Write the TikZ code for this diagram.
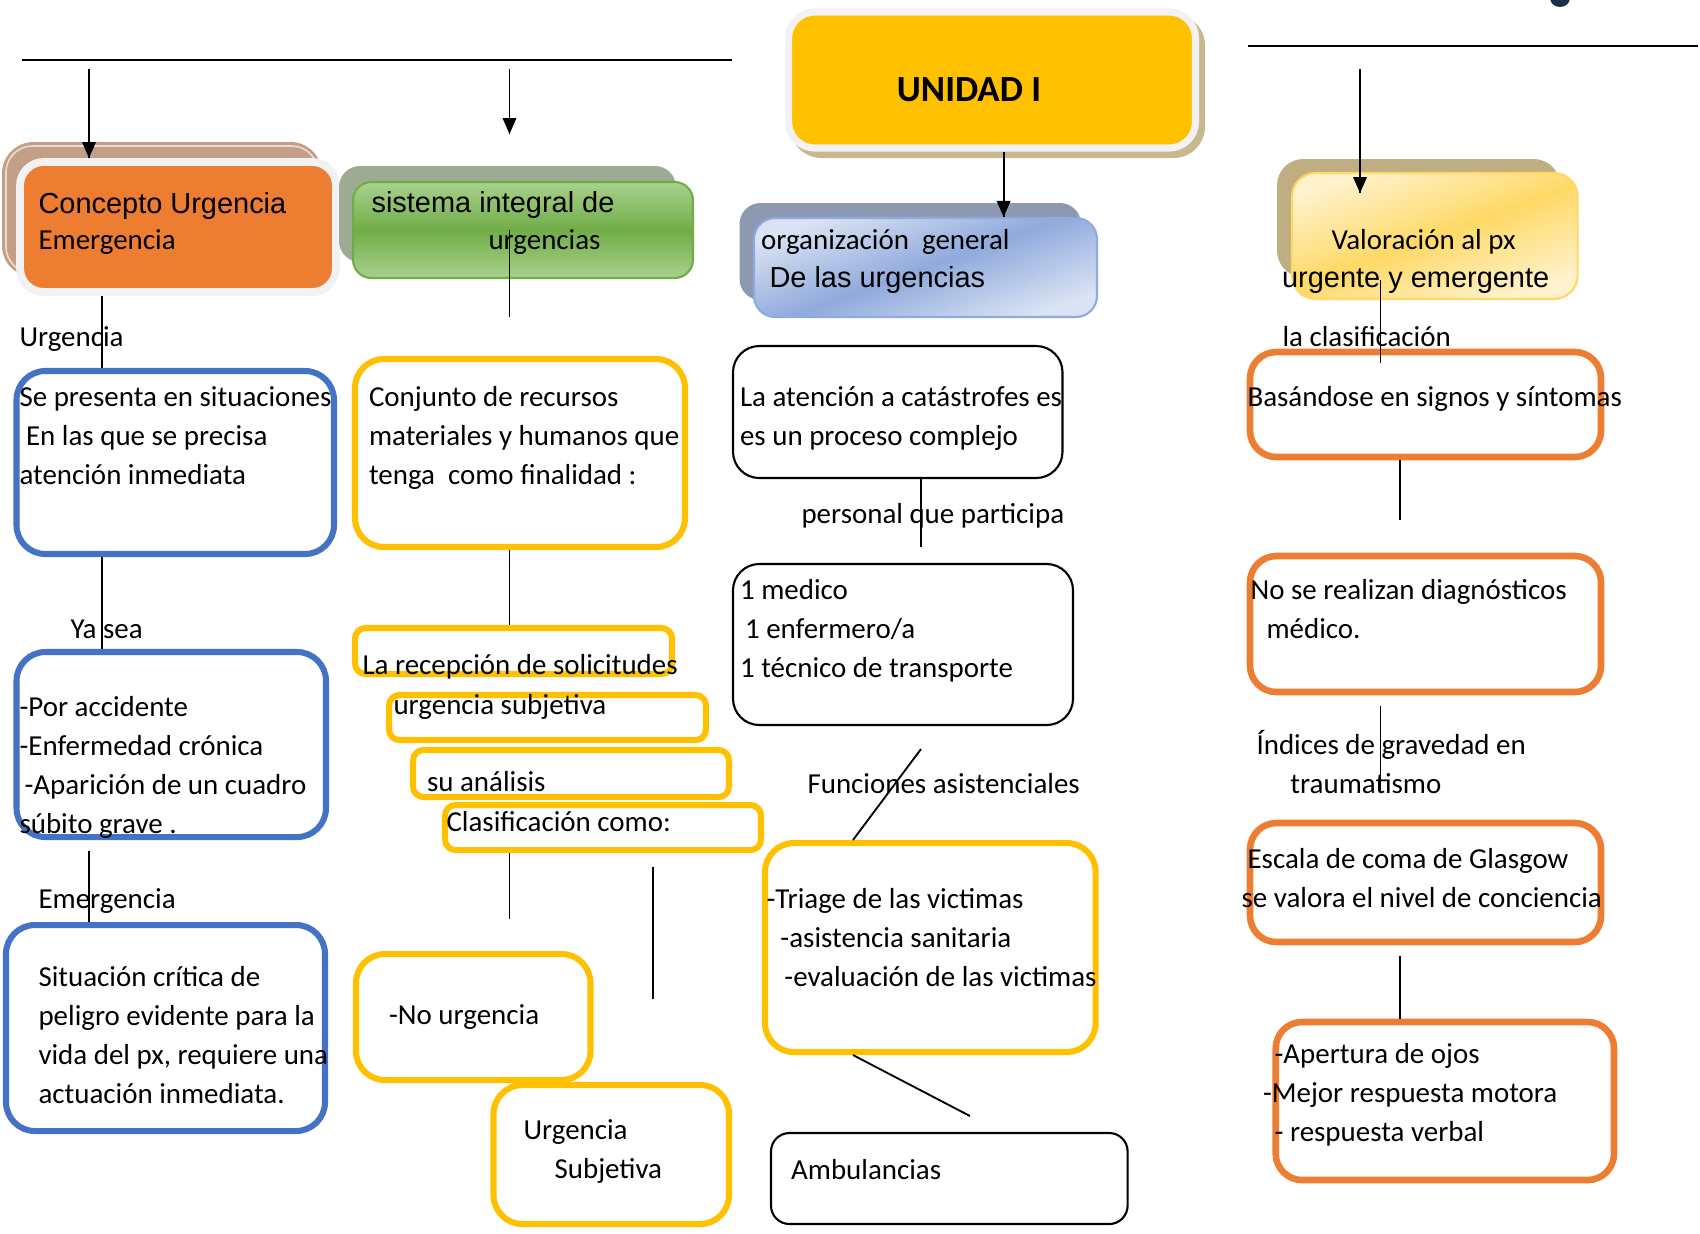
\documentclass[tikz,border=0pt]{standalone}
\usepackage{fontspec}
\setmainfont{Carlito}
\newfontfamily\arialfont{Liberation Sans}
\usetikzlibrary{fit}

\definecolor{blueline}{HTML}{4472C4}
\definecolor{goldline}{HTML}{FFC000}
\definecolor{orangeline}{HTML}{ED7D31}
\definecolor{framegray}{HTML}{F2F2F2}
\definecolor{tanshadow}{HTML}{C29F86}
\definecolor{unishadow}{HTML}{C8B88E}
\definecolor{greenshadow}{HTML}{9EAB93}
\definecolor{greenlight}{HTML}{A9D18E}
\definecolor{greendark}{HTML}{70AD47}
\definecolor{blueshadow}{HTML}{8D99B1}
\definecolor{bluelight}{HTML}{DAE3F3}
\definecolor{bluemid}{HTML}{8FAADC}
\definecolor{yelshadow}{HTML}{BFAE81}
\definecolor{cream}{HTML}{FFF2CC}
\definecolor{yelmid}{HTML}{FFD966}
\definecolor{navydot}{HTML}{1F2C4C}

\tikzset{
  every node/.style={inner sep=0pt, font=\fontsize{11pt}{14.9pt}\selectfont},
  txt/.style={anchor=base west},
  arialtxt/.style={anchor=base west, font=\arialfont\fontsize{11pt}{14.9pt}\selectfont},
  para/.style={anchor=base west, align=flush left, text width=200pt},
  bluebox/.style={draw=blueline, line width=2.3pt, rounded corners=11pt},
  goldbox/.style={draw=goldline, line width=2.3pt, rounded corners=11pt},
  goldstrip/.style={draw=goldline, line width=2.3pt, rounded corners=4pt},
  orangebox/.style={draw=orangeline, line width=2.5pt, rounded corners=10pt},
  blackbox/.style={draw=black, line width=0.8pt, rounded corners=10pt},
  conn/.style={line width=0.7pt},
  headfill/.style={fill=black}
}

\begin{document}
\begin{tikzpicture}[x=0.38pt, y=-0.38pt]
  \fill [white] (0,0) rectangle (1700,1233);
  \useasboundingbox (0,0) rectangle (1700,1233);

  % rules along the top
  \draw [line width=0.8pt] (22,60) -- (732,60);
  \draw [line width=0.8pt] (1248,46) -- (1698,46);
  \fill [navydot] (1560,-2) ellipse (10 and 9);

  % header boxes
  \fill [tanshadow, rounded corners=12pt] (2,142) rectangle (322,277);
  \draw [white!65!tanshadow, line width=0.6pt, rounded corners=10pt] (6,146) rectangle (318,273);
  \node [fit={(20,162) (336,292)}, fill=orangeline, draw=framegray, line width=3pt, rounded corners=9pt] (concepto) {};
  \fill [greenshadow, rounded corners=8pt] (339,166) rectangle (676,262);
  \node [fit={(353,182) (693,278)}, top color=greenlight, bottom color=greenlight, middle color=greendark, draw=greendark, line width=0.8pt, rounded corners=7pt] (sistema) {};
  \fill [unishadow, rounded corners=12pt] (790,14) rectangle (1205,158);
  \node [fit={(788.5,12) (1195.5,148)}, fill=goldline, draw=framegray, line width=2.7pt, rounded corners=10pt] (unidad) {};
  \fill [blueshadow, rounded corners=8pt] (739.5,203) rectangle (1081,300);
  \node [fit={(754,218) (1097,317)}, top color=bluelight, bottom color=bluelight, middle color=bluemid, shading angle=20, draw=bluemid, line width=0.8pt, rounded corners=8pt] (organiz) {};
  \fill [yelshadow, rounded corners=10pt] (1277,159) rectangle (1560,277);
  \node [fit={(1292,173) (1577.6,299)}, top color=cream, bottom color=cream, middle color=yelmid, shading angle=20, draw=yelmid, line width=0.8pt, rounded corners=9pt] (valor) {};

  % column 1
  \node [bluebox, fit={(16.5,371) (334,554)}] (urgbox) {};
  \node [bluebox, fit={(16.5,652) (326,837)}] (yabox) {};
  \node [bluebox, fit={(6,925) (325,1131)}] (emebox) {};

  % column 2
  \node [goldbox, fit={(355,359) (685,547)}] (conjunto) {};
  \node [goldstrip, fit={(355,628) (672,674)}] (recepcion) {};
  \node [goldstrip, fit={(389,695) (706,740)}] (usubj) {};
  \node [goldstrip, fit={(413,750) (729,797)}] (analisis) {};
  \node [goldstrip, fit={(445,805) (761,850)}] (clasif) {};
  \node [goldbox, fit={(356,954) (590.5,1080)}] (nourg) {};
  \node [goldbox, fit={(493.5,1085) (729,1224)}] (urgsubj) {};

  % column 3
  \node [blackbox, fit={(733,346) (1062.5,478)}] (catas) {};
  \node [blackbox, fit={(733,564) (1073,725)}] (personal) {};
  \node [goldbox, fit={(765,843) (1095.6,1052)}] (triage) {};
  \node [blackbox, rounded corners=7pt, fit={(771,1133) (1127.6,1224)}] (ambul) {};

  % column 4
  \node [orangebox, fit={(1250,352) (1601,457)}] (basand) {};
  \node [orangebox, fit={(1250,556) (1601,692)}] (nodiag) {};
  \node [orangebox, fit={(1250,823) (1601,942)}] (escala) {};
  \node [orangebox, fit={(1275.7,1022) (1614,1180)}] (apertura) {};

  % connectors
  \coordinate (x1) at (102,0);
  \coordinate (x1b) at (89,0);
  \coordinate (a1) at (89,69);
  \draw [conn] (a1) -- (concepto.north -| a1);
  \fill [headfill] (concepto.north -| a1) -- ++(-7,-16) -- ++(14,0) -- cycle;
  \draw [conn] (concepto.south -| x1) -- (urgbox.north -| x1);
  \draw [conn] (urgbox.south -| x1) -- (yabox.north -| x1);
  \draw [conn, shorten <=4pt] (yabox.south -| x1b) -- (emebox.north -| x1b);

  \coordinate (x2) at (509.5,0);
  \coordinate (a2) at (509.5,69);
  \coordinate (a2e) at (509.5,134);
  \draw [conn] (a2) -- (a2e);
  \fill [headfill] (a2e) -- ++(-7,-16) -- ++(14,0) -- cycle;
  \coordinate (s2) at (509.5,317);
  \draw [conn] (sistema.center -| x2) -- (s2);
  \draw [conn] (conjunto.south -| x2) -- (recepcion.north -| x2);
  \coordinate (n2) at (509.5,919);
  \draw [conn] (clasif.south -| x2) -- (n2);
  \coordinate (m2a) at (653,867);
  \coordinate (m2b) at (653,999);
  \draw [conn] (m2a) -- (m2b);

  \coordinate (x3) at (1003.6,0);
  \draw [conn] (unidad.south -| x3) -- (organiz.north -| x3);
  \fill [headfill] (organiz.north -| x3) -- ++(-7,-16) -- ++(14,0) -- cycle;
  \coordinate (x4) at (921,0);
  \coordinate (p3) at (921,547);
  \draw [conn] (catas.south -| x4) -- (p3);
  \coordinate (d1) at (921,749);
  \coordinate (d2) at (853,0);
  \coordinate (d3) at (970,1116);
  \draw [conn] (d1) -- (triage.north -| d2);
  \draw [conn] (triage.south -| d2) -- (d3);

  \coordinate (a4) at (1360,69);
  \coordinate (a4e) at (1360,193);
  \draw [conn] (a4) -- (a4e);
  \fill [headfill] (a4e) -- ++(-7,-16) -- ++(14,0) -- cycle;
  \coordinate (v1) at (1380.5,280);
  \coordinate (v2) at (1380.5,363);
  \draw [conn] (v1) -- (v2);
  \coordinate (x5) at (1399.6,0);
  \coordinate (w2) at (1399.6,520);
  \draw [conn] (basand.south -| x5) -- (w2);
  \coordinate (g1) at (1380.5,706);
  \coordinate (g2) at (1380.5,793);
  \draw [conn] (g1) -- (g2);
  \draw [conn, shorten <=4pt] (escala.south -| x5) -- (apertura.north -| x5);

  % header texts
  \node [arialtxt] (t-concepto) at (38,213) {Concepto Urgencia};
  \node [txt] (t-emerg) at (38,249) {Emergencia};
  \node [arialtxt] (t-sist) at (371,212) {sistema integral de};
  \node [txt] (t-urgs) at (488,249) {urgencias};
  \node [anchor=base, font=\bfseries\fontsize{14pt}{17pt}\selectfont] (t-unidad) at (969,101) {UNIDAD I};
  \node [txt] (t-org) at (760.6,249) {organización\ \ general};
  \node [arialtxt] (t-delas) at (769,287) {De las urgencias};
  \node [txt] (t-val) at (1331,249) {Valoración al px};
  \node [arialtxt] (t-urgent) at (1281.6,287) {urgente y emergente};

  % labels on the connectors
  \node [txt] (l-urg) at (19,346) {Urgencia};
  \node [txt] (l-ya) at (70,638) {Ya sea};
  \node [txt] (l-eme) at (38,908) {Emergencia};
  \node [txt] (l-pers) at (801,523) {personal que participa};
  \node [txt] (l-func) at (807,793) {Funciones asistenciales};
  \node [txt] (l-clas) at (1282,346) {la clasificación};
  \node [para] (l-ind) at (1256,754) {Índices de gravedad en\\\hspace*{12.9pt}traumatismo};

  % box texts
  \node [para] (t-urg) at (19,406) {Se presenta en situaciones\\\hspace*{2.5pt}En las que se precisa\\atención inmediata};
  \node [para] (t-ya) at (19,716) {-Por accidente\\-Enfermedad crónica\\\hspace*{1.9pt}-Aparición de un cuadro\\súbito grave .};
  \node [para] (t-eme) at (38,986) {Situación crítica de\\peligro evidente para la\\vida del px, requiere una\\actuación inmediata.};
  \node [para] (t-conj) at (368.5,406) {Conjunto de recursos\\materiales y humanos que\\tenga\ \ como finalidad :};
  \node [txt] (t-recep) at (362,674) {La recepción de solicitudes};
  \node [txt] (t-usubj) at (393,714) {urgencia subjetiva};
  \node [txt] (t-anal) at (426.5,791) {su análisis};
  \node [txt] (t-clasif) at (446,831) {Clasificación como:};
  \node [txt] (t-nourg) at (388.6,1024) {-No urgencia};
  \node [para] (t-urgsubj) at (523,1139) {Urgencia\\\hspace*{11.8pt}Subjetiva};
  \node [para] (t-catas) at (739.5,406) {La atención a catástrofes es\\es un proceso complejo};
  \node [para] (t-personal) at (739.5,599) {1 medico\\\hspace*{1.9pt}1 enfermero/a\\1 técnico de transporte};
  \node [para] (t-triage) at (766,908) {-Triage de las victimas\\\hspace*{5.3pt}-asistencia sanitaria\\\hspace*{6.8pt}-evaluación de las victimas};
  \node [txt] (t-ambul) at (790.6,1179) {Ambulancias};
  \node [txt] (t-basand) at (1247,406) {Basándose en signos y síntomas};
  \node [para] (t-nodiag) at (1250,599) {No se realizan diagnósticos\\\hspace*{6.1pt}médico.};
  \node [para] (t-escala) at (1241,868) {\hspace*{2.3pt}Escala de coma de Glasgow\\se valora el nivel de conciencia};
  \node [para] (t-apert) at (1262.5,1063) {\hspace*{4.4pt}-Apertura de ojos\\-Mejor respuesta motora\\\hspace*{4.4pt}- respuesta verbal};
\end{tikzpicture}
\end{document}
